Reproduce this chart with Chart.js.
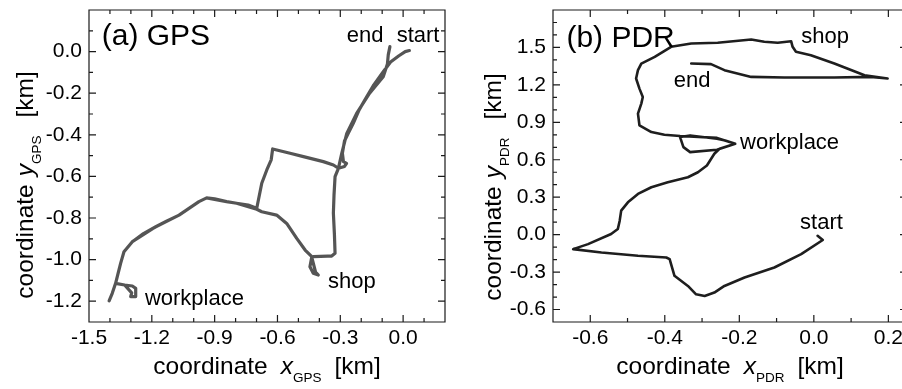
<!DOCTYPE html>
<html>
<head>
<meta charset="utf-8">
<script src="https://cdn.jsdelivr.net/npm/chart.js@4.4.1/dist/chart.umd.min.js"></script>
<style>
  html, body { margin: 0; padding: 0; background: #fff; overflow: hidden; }
  #wrap { position: relative; width: 902px; height: 389px; overflow: hidden; }
  #panelA { position: absolute; left: 0; top: 0; }
  #panelB { position: absolute; left: 451px; top: 0; }
</style>
</head>
<body>
<div id="wrap">
  <canvas id="panelA" width="451" height="389"></canvas>
  <canvas id="panelB" width="470" height="389"></canvas>
</div>
<script>
// ===== Data: GPS track (km) =====
const gpsX = [0.030, 0.010, -0.020, -0.060, -0.094, -0.140, -0.174, -0.210, -0.238, -0.262,
  -0.280, -0.290, -0.285, -0.270, -0.280, -0.309, -0.333, -0.381, -0.476, -0.540,
  -0.623, -0.630, -0.651, -0.675, -0.699, -0.740, -0.795, -0.843, -0.900, -0.938,
  -0.975, -1.020, -1.070, -1.130, -1.181, -1.240, -1.293, -1.333, -1.349, -1.362,
  -1.373, -1.389, -1.404, -1.389, -1.373, -1.330, -1.293, -1.277, -1.277, -1.301,
  -1.296, -1.330, -1.373, -1.349, -1.333, -1.293, -1.181, -1.070, -0.975, -0.938,
  -0.843, -0.795, -0.699, -0.675, -0.604, -0.556, -0.508, -0.468, -0.436, -0.445,
  -0.429, -0.405, -0.418, -0.436, -0.429, -0.360, -0.341, -0.325, -0.328, -0.333,
  -0.330, -0.325, -0.309, -0.293, -0.269, -0.222, -0.160, -0.095, -0.075, -0.071,
  -0.063];
const gpsY = [0.005, 0.000, -0.020, -0.050, -0.096, -0.160, -0.217, -0.280, -0.345, -0.393,
  -0.430, -0.489, -0.529, -0.537, -0.552, -0.561, -0.545, -0.529, -0.505, -0.489,
  -0.468, -0.520, -0.569, -0.633, -0.753, -0.738, -0.729, -0.721, -0.708, -0.703,
  -0.721, -0.752, -0.786, -0.815, -0.842, -0.875, -0.914, -0.962, -1.018, -1.070,
  -1.114, -1.162, -1.198, -1.162, -1.114, -1.122, -1.127, -1.138, -1.178, -1.178,
  -1.160, -1.122, -1.114, -1.018, -0.962, -0.914, -0.842, -0.786, -0.721, -0.703,
  -0.721, -0.729, -0.758, -0.770, -0.786, -0.826, -0.898, -0.954, -0.986, -1.034,
  -1.066, -1.074, -1.060, -0.990, -0.986, -0.983, -0.983, -0.970, -0.880, -0.777,
  -0.690, -0.601, -0.561, -0.489, -0.393, -0.297, -0.200, -0.121, -0.060, -0.016,
  0.024];

// ===== Data: PDR track (km) =====
const pdrX = [0.010, 0.024, -0.034, -0.106, -0.186, -0.240, -0.267, -0.293, -0.316, -0.338,
  -0.374, -0.387, -0.396, -0.472, -0.570, -0.646, -0.606, -0.544, -0.526, -0.521,
  -0.517, -0.499, -0.472, -0.436, -0.392, -0.338, -0.311, -0.287, -0.267, -0.253,
  -0.211, -0.238, -0.260, -0.332, -0.359, -0.350, -0.332, -0.260, -0.211, -0.260,
  -0.359, -0.401, -0.436, -0.468, -0.472, -0.463, -0.459, -0.468, -0.477, -0.472,
  -0.463, -0.427, -0.383, -0.329, -0.258, -0.168, -0.133, -0.097, -0.061, -0.057,
  -0.048, -0.008, 0.055, 0.136, 0.198, 0.153, 0.055, -0.079, -0.168, -0.240,
  -0.276, -0.329];
const pdrY = [-0.009, -0.043, -0.156, -0.263, -0.344, -0.411, -0.464, -0.491, -0.478, -0.411,
  -0.330, -0.196, -0.183, -0.169, -0.143, -0.116, -0.076, 0.005, 0.045, 0.112,
  0.192, 0.259, 0.326, 0.380, 0.420, 0.460, 0.500, 0.554, 0.648, 0.688,
  0.728, 0.755, 0.769, 0.795, 0.782, 0.701, 0.661, 0.680, 0.728, 0.775,
  0.790, 0.800, 0.822, 0.876, 0.969, 1.050, 1.103, 1.170, 1.251, 1.318,
  1.371, 1.425, 1.505, 1.532, 1.537, 1.564, 1.545, 1.537, 1.550, 1.505,
  1.465, 1.438, 1.371, 1.277, 1.251, 1.264, 1.259, 1.259, 1.264, 1.318,
  1.366, 1.371];

// ===== Tick labels =====
const gpsXTicks = [-1.5, -1.2, -0.9, -0.6, -0.3, 0.0];
const gpsYTicks = [-1.2, -1.0, -0.8, -0.6, -0.4, -0.2, 0.0];
const pdrXTicks = [-0.6, -0.4, -0.2, 0.0, 0.2];
const pdrYTicks = [-0.6, -0.3, 0.0, 0.3, 0.6, 0.9, 1.2, 1.5];

// ===== Place labels (data coordinates) =====
const gpsNotes = [
  { text: '(a) GPS', x: -1.439, y: 0.032, big: true },
  { text: 'end', x: -0.269, y: 0.045 },
  { text: 'start', x: -0.031, y: 0.045 },
  { text: 'shop', x: -0.359, y: -1.137 },
  { text: 'workplace', x: -1.233, y: -1.218 },
];
const pdrNotes = [
  { text: '(b) PDR', x: -0.664, y: 1.505, big: true },
  { text: 'shop', x: -0.034, y: 1.532 },
  { text: 'end', x: -0.376, y: 1.183 },
  { text: 'workplace', x: -0.198, y: 0.688 },
  { text: 'start', x: -0.037, y: 0.045 },
];

const FONT = "'Liberation Sans', Arial, Helvetica, sans-serif";

function steps(min, max, step) {
  const out = [];
  for (let k = Math.ceil(min / step - 1e-6); k <= Math.floor(max / step + 1e-6); k++) {
    out.push(Math.round(k * step * 1000) / 1000);
  }
  return out;
}

function drawTitle(ctx, sub, cx, cy, vertical) {
  const segs = [
    { text: 'coordinate', font: '24.5px ' + FONT, gap: vertical ? 8 : 13 },
    { text: vertical ? 'y' : 'x', font: 'italic 24.5px ' + FONT, gap: 0 },
    { text: sub, font: '13.5px ' + FONT, dy: 8, gap: vertical ? 18 : 13 },
    { text: '[km]', font: '24.5px ' + FONT, gap: 0 },
  ];
  let total = 0;
  segs.forEach(s => { ctx.font = s.font; s.w = ctx.measureText(s.text).width; total += s.w + s.gap; });
  ctx.save();
  ctx.translate(cx, cy);
  if (vertical) ctx.rotate(-Math.PI / 2);
  ctx.fillStyle = '#000';
  ctx.textBaseline = 'alphabetic';
  ctx.textAlign = 'left';
  let pos = -total / 2;
  segs.forEach(s => {
    ctx.font = s.font;
    ctx.fillText(s.text, pos, s.dy || 0);
    pos += s.w + s.gap;
  });
  ctx.restore();
}

function makeFrame(cfg) {
  return {
    id: 'frame',
    afterDraw(chart) {
      const { ctx, chartArea: a } = chart;
      const sx = chart.scales.x, sy = chart.scales.y;
      const isMajor = (v, list) => list.some(t => Math.abs(t - v) < 1e-6);
      ctx.save();
      ctx.strokeStyle = '#1a1a1a';
      ctx.lineWidth = 1.2;
      ctx.beginPath();
      ctx.rect(a.left, a.top, a.right - a.left, a.bottom - a.top);
      steps(sx.min, sx.max, 0.1).forEach(v => {
        const p = sx.getPixelForValue(v);
        const len = isMajor(v, cfg.xTicks) ? 7 : 4;
        ctx.moveTo(p, a.bottom); ctx.lineTo(p, a.bottom - len);
        ctx.moveTo(p, a.top); ctx.lineTo(p, a.top + len);
      });
      steps(sy.min, sy.max, 0.1).forEach(v => {
        const p = sy.getPixelForValue(v);
        const len = isMajor(v, cfg.yTicks) ? 7 : 4;
        ctx.moveTo(a.left, p); ctx.lineTo(a.left + len, p);
        ctx.moveTo(a.right, p); ctx.lineTo(a.right - len, p);
      });
      ctx.stroke();

      // place labels
      ctx.fillStyle = '#000';
      ctx.textAlign = 'left';
      ctx.textBaseline = 'alphabetic';
      cfg.notes.forEach(n => {
        ctx.font = (n.big ? '30px ' : '22px ') + FONT;
        ctx.fillText(n.text, sx.getPixelForValue(n.x), sy.getPixelForValue(n.y));
      });

      // axis titles
      drawTitle(ctx, cfg.sub, (a.left + a.right) / 2, 374, false);
      drawTitle(ctx, cfg.sub, cfg.yTitleX, cfg.yTitleY, true);
      ctx.restore();
    }
  };
}

function makePanel(id, cfg) {
  const points = cfg.xs.map((x, i) => ({ x: x, y: cfg.ys[i] }));
  return new Chart(document.getElementById(id), {
    type: 'scatter',
    data: {
      datasets: [{
        data: points,
        showLine: true,
        borderColor: cfg.color,
        borderWidth: cfg.width,
        pointRadius: 0,
        tension: 0,
        borderJoinStyle: 'round',
        borderCapStyle: 'round',
      }],
    },
    options: {
      responsive: false,
      animation: false,
      events: [],
      layout: { padding: { top: 10, right: cfg.padRight, left: 0, bottom: 0 } },
      plugins: { legend: { display: false }, tooltip: { enabled: false } },
      scales: {
        x: {
          type: 'linear',
          min: cfg.xMin, max: cfg.xMax,
          grid: { display: false, drawTicks: false },
          border: { display: false },
          afterBuildTicks: axis => { axis.ticks = cfg.xTicks.map(v => ({ value: v })); },
          afterFit: axis => { axis.height = 67; axis.paddingLeft = 0; axis.paddingRight = 0; },
          ticks: {
            autoSkip: false, maxRotation: 0, padding: 4, color: '#000',
            font: { family: FONT, size: 21 },
            callback: v => v.toFixed(1),
          },
        },
        y: {
          type: 'linear',
          min: cfg.yMin, max: cfg.yMax,
          grid: { display: false, drawTicks: false },
          border: { display: false },
          afterBuildTicks: axis => { axis.ticks = cfg.yTicks.map(v => ({ value: v })); },
          afterFit: axis => { axis.width = cfg.yWidth; axis.paddingTop = 0; axis.paddingBottom = 0; },
          ticks: {
            autoSkip: false, padding: 7, color: '#000',
            font: { family: FONT, size: 21 },
            callback: v => v.toFixed(1),
          },
        },
      },
    },
    plugins: [makeFrame(cfg)],
  });
}

makePanel('panelA', {
  xs: gpsX, ys: gpsY, color: '#555555', width: 3.2,
  xMin: -1.5, xMax: 0.2, yMin: -1.3, yMax: 0.2,
  xTicks: gpsXTicks, yTicks: gpsYTicks, notes: gpsNotes,
  yWidth: 89, padRight: 6, sub: 'GPS', yTitleX: 33, yTitleY: 185,
});

makePanel('panelB', {
  xs: pdrX, ys: pdrY, color: '#1e1e1e', width: 2.6,
  xMin: -0.7, xMax: 0.25, yMin: -0.7, yMax: 1.8,
  xTicks: pdrXTicks, yTicks: pdrYTicks, notes: pdrNotes,
  yWidth: 102, padRight: 14, sub: 'PDR', yTitleX: 50, yTitleY: 187,
});
</script>
</body>
</html>
